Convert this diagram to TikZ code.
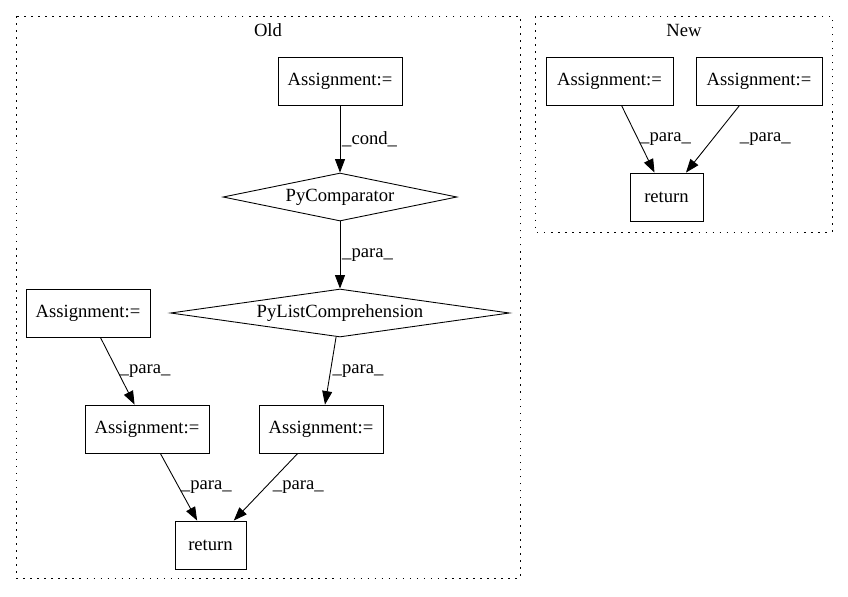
\documentclass[tikz,border=0pt]{standalone}
\usepackage{fontspec}
\setmainfont{Liberation Serif}
\usetikzlibrary{shapes.geometric,arrows.meta}
\tikzset{every node/.style={font=\fontsize{10.6}{12}\selectfont},
  box/.style={draw,line width=0.5pt,minimum height=0.96cm,minimum width=2.48cm,inner sep=0pt},
  dia/.style={draw,shape=diamond,aspect=7,inner sep=0pt,line width=0.5pt,minimum height=0.96cm},
  flow/.style={draw,line width=0.5pt,-{Triangle[length=0.27cm,width=0.2cm]}},
  lbl/.style={anchor=west,inner sep=1pt},
  cluster/.style={draw,line width=0.55pt,dash pattern=on 0.9pt off 3.1pt}}

\begin{document}
\begin{tikzpicture}[x=0.02cm,y=-0.02cm]
        \useasboundingbox (0,0) rectangle (848,596);
        \path[cluster] (16,16) rectangle (520,578);
        \path[cluster] (535,16) rectangle (832,232);
        \path (268,30) node (old) {Old}
        (684,30) node (new) {New};
        % old
        \path (340,81) node[box] (a) {Assignment:=}
        (340,197) node[dia,minimum width=4.68cm] (cmp) {PyComparator}
        (340,313) node[dia,minimum width=6.78cm] (lc) {PyListComprehension}
        (88,313) node[box] (b) {Assignment:=}
        (147,429) node[box] (c) {Assignment:=}
        (321,429) node[box] (d) {Assignment:=}
        (210.5,545) node[box,minimum width=1.42cm] (r) {return};
        % new
        \path (609.5,81) node[box,minimum width=2.54cm] (e) {Assignment:=}
        (759,81) node[box,minimum width=2.52cm] (f) {Assignment:=}
        (666.5,197) node[box,minimum width=1.46cm] (s) {return};
        \path[flow]
            (a)   edge node[lbl] {\_cond\_} (cmp)
            (cmp) edge node[lbl] {\_para\_} (lc)
            (b)   edge node[lbl] {\_para\_} (c)
            (lc)  edge node[lbl] {\_para\_} (d)
            (c)   edge node[lbl] {\_para\_} (r)
            (d)   edge node[lbl,xshift=0.1cm] {\_para\_} (r)
            (e)   edge node[lbl] {\_para\_} (s)
            (f)   edge node[lbl,xshift=0.5cm] {\_para\_} (s);
        \end{tikzpicture}
\end{document}
